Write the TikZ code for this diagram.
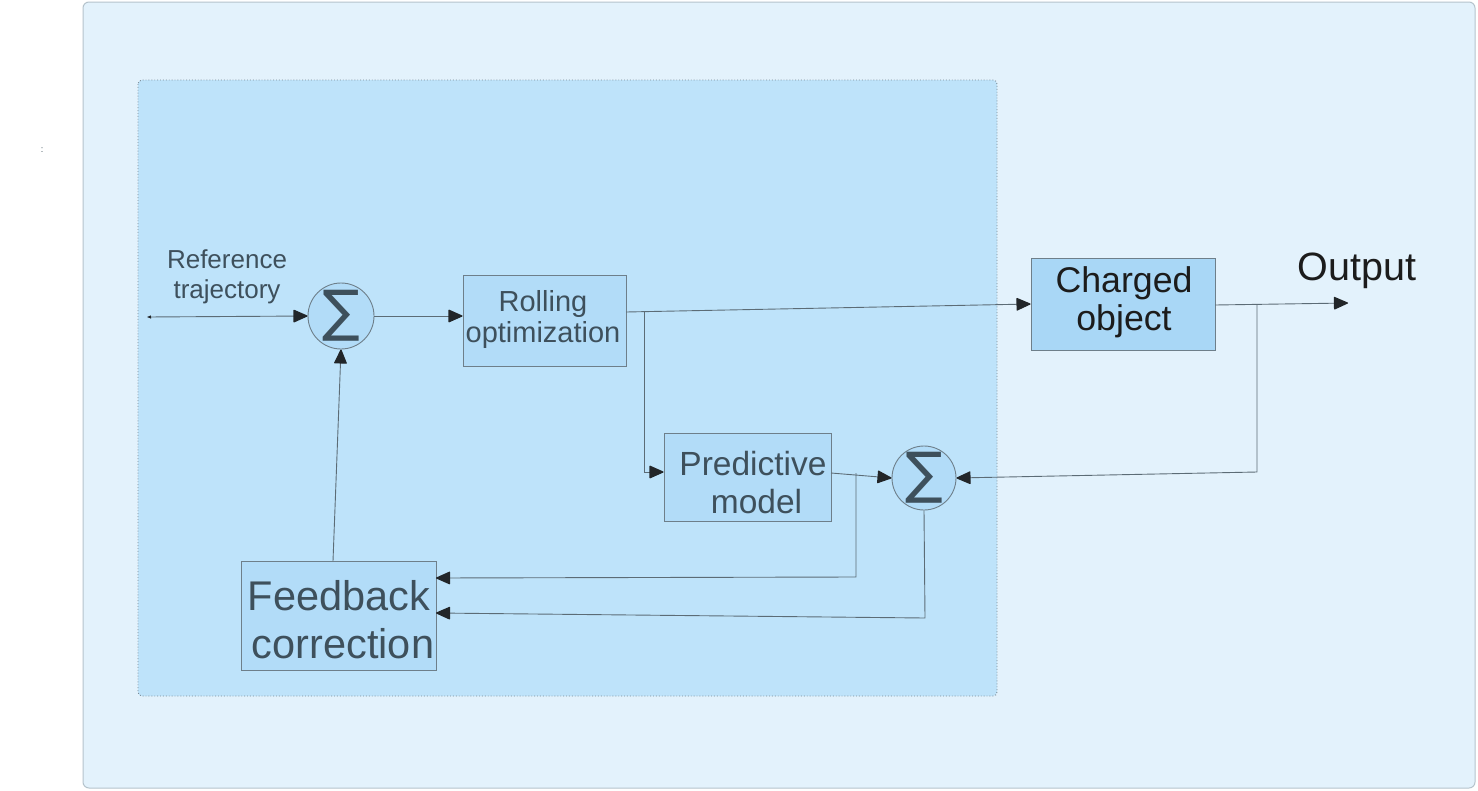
\documentclass[tikz,border=0pt]{standalone}
\usepackage{fontspec}
\setmainfont{Liberation Sans}
\newfontfamily\symfont{DejaVu Sans}
\usetikzlibrary{arrows.meta}
\definecolor{outerfill}{HTML}{E3F2FC}
\definecolor{outerline}{HTML}{B5C3CC}
\definecolor{innerfill}{HTML}{BEE3FA}
\definecolor{innerline}{HTML}{7A8A96}
\definecolor{boxfill}{HTML}{B2DCF8}
\definecolor{chargedfill}{HTML}{A9D7F6}
\definecolor{boxline}{HTML}{6E7F8A}
\definecolor{txt}{HTML}{3E505C}
\definecolor{darktxt}{HTML}{1C1C1C}
\definecolor{wire}{HTML}{5C6C76}
\definecolor{tipcol}{HTML}{222629}
\begin{document}
\begin{tikzpicture}[x=1pt,y=-1pt,
  blk/.style={draw=boxline, fill=boxfill, line width=0.9pt, align=center, inner sep=0pt, text=txt},
  sumnode/.style={draw=boxline, fill=boxfill, circle, line width=0.9pt, minimum size=66pt, inner sep=0pt, text=txt, font=\symfont\fontsize{56}{56}\selectfont},
  conn/.style={draw=wire, line width=0.9pt},
  arr/.style={conn, -{Triangle[length=15pt,width=13pt,color=tipcol,fill=tipcol,line width=1.2pt,round]}},
  dblarr/.style={conn, {Triangle[length=4pt,width=3pt,color=tipcol,fill=tipcol]}-{Triangle[length=15pt,width=13pt,color=tipcol,fill=tipcol,line width=1.2pt,round]}},
  lbl/.style={align=center, inner sep=0pt}
]
\useasboundingbox (0,0) rectangle (1478,790);
% backgrounds
\path[fill=white] (0,0) rectangle (1478,790);
\draw[fill=outerfill, draw=outerline, line width=1pt, rounded corners=6pt] (83,2) rectangle (1475,788);
\draw[fill=innerfill, draw=innerline, line width=0.9pt, dotted, rounded corners=4pt] (138,80) rectangle (997,696);
\node[lbl, text=txt, font=\fontsize{9}{9}\selectfont] (colon) at (42,150) {:};

% blocks
\node[blk, minimum width=163pt, minimum height=91pt] (roll) at (544.5,320.5) {};
\node[lbl, text=txt, font=\fontsize{29}{31}\selectfont] (rolltxt) at (543,319) {Rolling\\optimization};
\node[blk, minimum width=167pt, minimum height=88pt] (pred) at (747.5,477) {};
\node[lbl, text=txt, font=\fontsize{33.5}{38}\selectfont] (predtxt) at (753,483) {Predictive\\\hspace*{7pt}model};
\node[blk, minimum width=195pt, minimum height=109pt] (fb) at (338.5,615.5) {};
\node[lbl, text=txt, font=\fontsize{41.5}{48}\selectfont] (fbtxt) at (339,620) {Feedback\\\hspace*{8pt}correction};
\node[blk, fill=chargedfill, minimum width=184pt, minimum height=92pt] (charged) at (1123,304) {};
\node[lbl, text=darktxt, font=\fontsize{35.7}{38}\selectfont] (chtxt) at (1124,302) {Charged\\object};
\node[sumnode] (s1) at (341,316) {∑};
\node[sumnode, minimum size=64pt] (s2) at (924,478) {∑};

% labels
\node[lbl, text=txt, font=\fontsize{26}{30}\selectfont] (reftxt) at (227,277) {Reference\\trajectory};
\node[lbl, text=darktxt, font=\fontsize{39.5}{40}\selectfont] (outtxt) at (1357,271) {Output};

% coordinates
\coordinate (ref) at (147,317);
\coordinate (ro) at (626,312);
\coordinate (b1) at (644,311.7);
\coordinate (b1c) at (644,472);
\coordinate (po) at (831,473);
\coordinate (b2) at (856,473);
\coordinate (b2c) at (856,577);
\coordinate (b3c) at (925,618);
\coordinate (fbin1) at (436,578);
\coordinate (fbin2) at (436,613);
\coordinate (fbtop) at (333,561);
\coordinate (co) at (1215,305);
\coordinate (outtip) at (1348,303);
\coordinate (b4) at (1257,304.6);
\coordinate (b4c) at (1257,472);

% connectors
\draw[dblarr] (ref) -- (s1.west);
\draw[arr] (s1.east) -- (s1.east -| roll.west);
\draw[arr] (ro) -- (charged.west);
\draw[arr] (b1) -- (b1c) -- (b1c -| pred.west);
\draw[arr] (po) -- (s2.west);
\draw[arr] (b2) -- (b2c) -- (fbin1);
\draw[arr] (s2.south) -- (b3c) -- (fbin2);
\draw[arr] (fbtop) -- (s1.south);
\draw[arr] (co) -- (outtip);
\draw[arr] (b4) -- (b4c) -- (s2.east);
\end{tikzpicture}
\end{document}
